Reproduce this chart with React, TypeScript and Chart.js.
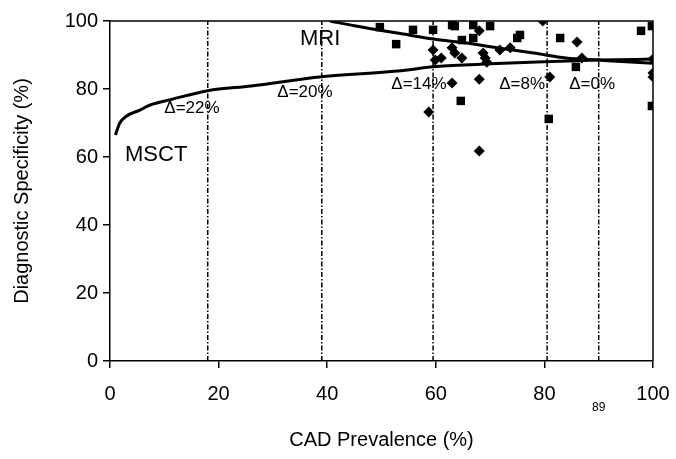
import React, { useEffect, useRef } from 'react';
import { Chart, registerables } from 'chart.js';
Chart.register(...registerables);

const FONT = "'Liberation Sans', Arial, sans-serif";

const msctX = [1, 1.8, 3, 5.5, 7.4, 11, 18, 26, 39, 53, 60, 70, 80, 90, 100];
const msctY = [66.5, 70, 72, 73.8, 75.3, 76.8, 79.5, 80.9, 83.6, 85.3, 86.6, 87.4, 88, 88.5, 88.8];

const mriX = [40.5, 45, 50, 53.5, 59.5, 65.7, 71.8, 78, 84, 90, 95, 100];
const mriY = [100, 98.6, 97.2, 96.3, 94.7, 93.5, 92, 90.6, 89.1, 88.5, 88, 87.6];

const squareX = [49.7, 52.7, 55.8, 59.5, 63.0, 63.5, 66.9, 70.0, 66.9, 64.8, 75.0, 75.5, 82.9, 85.8, 64.6, 80.8, 97.8, 99.8, 99.8];
const squareY = [98.2, 93.2, 97.4, 97.4, 98.8, 98.5, 98.8, 98.5, 95.0, 94.4, 95.0, 95.9, 95.0, 86.5, 76.5, 71.2, 97.1, 98.5, 75.0];

const diamondX = [59.5, 59.9, 61.0, 63.0, 63.5, 64.8, 68.0, 68.7, 69.1, 69.4, 71.8, 73.7, 79.7, 86.0, 86.9, 81.0, 68.0, 63.0, 58.7, 68.0, 100, 100, 100];
const diamondY = [91.5, 88.5, 89.1, 92.1, 90.6, 89.1, 97.1, 90.6, 89.1, 87.9, 91.5, 92.1, 100, 93.8, 89.1, 83.5, 82.9, 81.8, 73.2, 61.8, 88.8, 84.7, 83.5];

const vLinesX = [18, 39, 59.5, 80.5, 90];

const xTicks = [0, 20, 40, 60, 80, 100];
const yTicks = [0, 20, 40, 60, 80, 100];

const labelTexts = ['MRI', 'MSCT', 'Δ=22%', 'Δ=20%', 'Δ=14%', 'Δ=8%', 'Δ=0%'];
const labelX = [38.7, 8.5, 15.1, 35.9, 56.9, 75.9, 88.8];
const labelY = [94.7, 60.6, 74.4, 79.1, 81.5, 81.5, 81.5];
const labelSizes = [22, 22, 17, 17, 17, 17, 17];

const belowAxisText = '89';
const belowAxisX = 90;

const zip = (xs: number[], ys: number[]) => xs.map((x, i) => ({ x, y: ys[i] }));

export default function App() {
  const ref = useRef<HTMLCanvasElement | null>(null);
  useEffect(() => {
    if (!ref.current) return;
    const annot = {
      id: 'annot',
      afterDatasetsDraw(chart: any) {
        const { ctx, chartArea, scales } = chart;
        ctx.save();
        ctx.strokeStyle = '#000';
        ctx.lineWidth = 1.5;
        ctx.beginPath();
        ctx.moveTo(chartArea.left, chartArea.top);
        ctx.lineTo(chartArea.right, chartArea.top);
        ctx.lineTo(chartArea.right, chartArea.bottom);
        ctx.stroke();
        ctx.fillStyle = '#000';
        ctx.textAlign = 'center';
        ctx.textBaseline = 'middle';
        labelTexts.forEach((t, i) => {
          ctx.font = `${labelSizes[i]}px ${FONT}`;
          ctx.fillText(t, scales.x.getPixelForValue(labelX[i]), scales.y.getPixelForValue(labelY[i]));
        });
        ctx.font = `12px ${FONT}`;
        ctx.fillText(belowAxisText, scales.x.getPixelForValue(belowAxisX), chartArea.bottom + 47);
        ctx.restore();
      },
    };
    const vlineSets = vLinesX.map((v) => ({
      type: 'line' as const,
      data: [{ x: v, y: 0 }, { x: v, y: 100 }],
      borderColor: '#000',
      borderWidth: 1.5,
      borderDash: [5, 2, 1.5, 2],
      pointRadius: 0,
      showLine: true,
      order: 3,
    }));
    const chart = new Chart(ref.current, {
      type: 'scatter',
      data: {
        datasets: [
          {
            data: zip(squareX, squareY),
            pointStyle: 'rect',
            pointRadius: 6,
            backgroundColor: '#000',
            borderColor: '#000',
            borderWidth: 0,
            order: 0,
          },
          {
            data: zip(diamondX, diamondY),
            pointStyle: 'rectRot',
            pointRadius: 5.5,
            backgroundColor: '#000',
            borderColor: '#000',
            borderWidth: 0,
            order: 0,
          },
          {
            type: 'line',
            data: zip(msctX, msctY),
            borderColor: '#000',
            borderWidth: 3,
            pointRadius: 0,
            showLine: true,
            cubicInterpolationMode: 'monotone',
            order: 1,
          },
          {
            type: 'line',
            data: zip(mriX, mriY),
            borderColor: '#000',
            borderWidth: 3,
            pointRadius: 0,
            showLine: true,
            cubicInterpolationMode: 'monotone',
            order: 1,
          },
          ...vlineSets,
        ] as any,
      },
      options: {
        animation: false,
        responsive: false,
        maintainAspectRatio: false,
        layout: { padding: { left: 0, top: 21, right: 23, bottom: 0 } },
        plugins: { legend: { display: false }, tooltip: { enabled: false } },
        scales: {
          x: {
            type: 'linear',
            min: 0,
            max: 100,
            afterFit: (s: any) => { s.height = 98; s.paddingRight = 0; s.paddingLeft = 0; },
            afterBuildTicks: (s: any) => { s.ticks = xTicks.map((v) => ({ value: v })); },
            ticks: { color: '#000', font: { family: FONT, size: 20 }, padding: 14, maxRotation: 0 },
            grid: { display: true, drawOnChartArea: false, drawTicks: true, tickLength: 7, color: '#000', lineWidth: 1.5 },
            border: { display: true, color: '#000', width: 1.5 },
            title: { display: true, text: 'CAD Prevalence (%)', color: '#000', font: { family: FONT, size: 20 }, padding: { top: 0, bottom: 7 } },
          },
          y: {
            type: 'linear',
            min: 0,
            max: 100,
            afterFit: (s: any) => { s.width = 110; s.paddingTop = 0; s.paddingBottom = 0; },
            afterBuildTicks: (s: any) => { s.ticks = yTicks.map((v) => ({ value: v })); },
            ticks: { color: '#000', font: { family: FONT, size: 20 }, padding: 5 },
            grid: { display: true, drawOnChartArea: false, drawTicks: true, tickLength: 7, color: '#000', lineWidth: 1.5 },
            border: { display: true, color: '#000', width: 1.5 },
            title: { display: true, text: 'Diagnostic Specificity (%)', color: '#000', font: { family: FONT, size: 20 }, padding: { top: 10, bottom: 0 } },
          },
        },
      },
      plugins: [annot],
    });
    return () => chart.destroy();
  }, []);
  return (
    <div style={{ position: 'fixed', left: 0, top: 0, width: 676, height: 459, background: '#fff' }}>
      <canvas ref={ref} width={676} height={459} style={{ width: 676, height: 459 }} />
    </div>
  );
}
